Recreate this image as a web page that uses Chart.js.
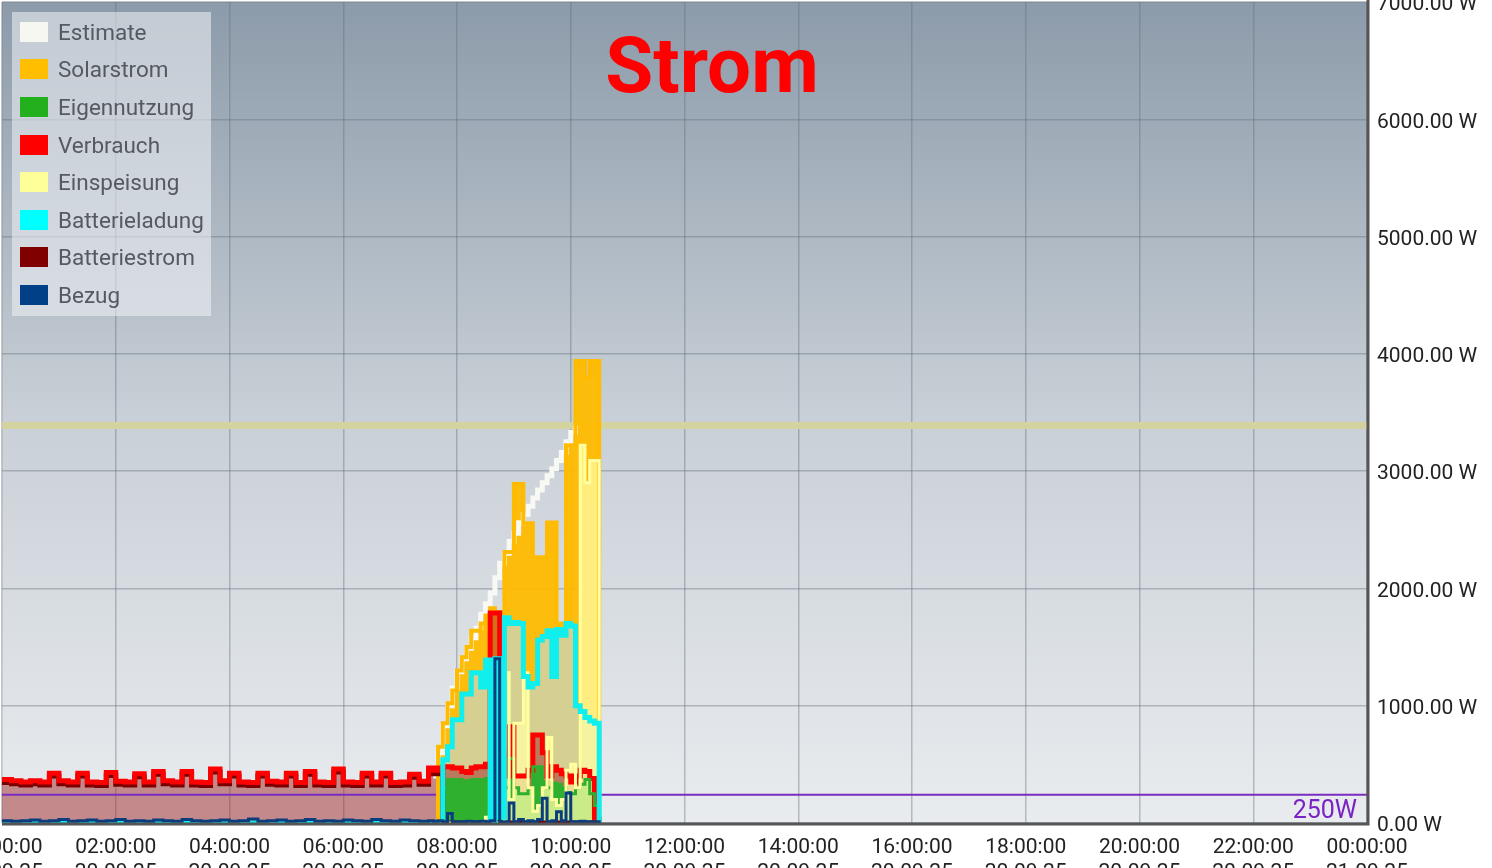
<!DOCTYPE html>
<html>
<head>
<meta charset="utf-8">
<script src="https://cdn.jsdelivr.net/npm/chart.js@4.4.0/dist/chart.umd.min.js"></script>
<style>
  html, body { margin: 0; padding: 0; background: #fff; overflow: hidden; }
  #wrap { position: relative; width: 1492px; height: 900px; }
  #chart { position: absolute; left: 0; top: 0; }
  #title {
    position: absolute; left: 0; top: 27px; width: 1424px; text-align: center;
    font: bold 78px/78px Roboto, sans-serif; color: #ff0000;
  }
  #legend {
    position: absolute; left: 12px; top: 12px; width: 199px; height: 304px;
    background: rgba(240, 243, 246, 0.55); box-sizing: border-box; padding-top: 1px;
  }
  .lg-row { display: flex; align-items: center; height: 37.6px; }
  .lg-sw { width: 28px; height: 20px; margin-left: 8px; }
  .lg-txt { margin-left: 10px; font: 22.5px Roboto, sans-serif; color: #555a60; }
  #limitLabel {
    position: absolute; left: 1260px; top: 797px; width: 97px; text-align: right;
    font: 25px/25px Roboto, sans-serif; color: #7a22c4;
  }
</style>
</head>
<body>
<div id="wrap">
  <canvas id="chart" width="1492" height="900"></canvas>
  <div id="title">Strom</div>
  <div id="legend"></div>
  <div id="limitLabel">250W</div>
</div>
<script>
// minutes since midnight, 20.09.25
const nightTimes = [0,10,20,30,40,50,60,70,80,90,100,110,120,130,140,150,160,170,180,190,
  200,210,220,230,240,250,260,270,280,290,300,310,320,330,340,350,360,370,380,390,
  400,410,420,430,440,450];
const dayTimes = [455,460,465,470,475,480,485,490,495,500,505,510,515,520,525,530,535,540,
  545,550,555,560,565,570,575,580,585,590,595,600,605,610,615,620,625,630];

// night values (W)
const verbrauchNight = [370,360,350,360,350,425,360,350,425,350,
  345,430,355,350,420,350,440,360,350,440,
  350,345,460,360,425,350,345,425,355,350,
  425,345,440,350,345,460,350,345,425,350,
  425,345,350,415,355,470];
const batteriestromNight = [345,335,325,335,325,400,335,325,400,325,
  320,405,330,325,395,325,415,335,325,415,
  325,320,435,335,400,325,320,400,330,325,
  400,320,415,325,320,435,325,320,400,325,
  400,320,325,390,330,445];
const bezugNight = [20,15,20,25,15,20,30,15,20,25,
  15,20,30,15,20,15,25,20,15,30,
  20,15,20,25,15,20,35,15,20,25,
  15,20,30,15,20,15,25,20,15,30,
  20,15,25,20,15,20];
const batterieladungNight = [0,0,0,0,0,0,0,0,0,0,
  0,0,0,0,0,0,0,0,0,0,
  0,0,0,0,0,0,0,0,0,0,
  0,0,0,0,0,0,0,0,0,0,
  0,0,0,0,0,0];

// day values (W)
const estimateDay = [400,600,830,1000,1150,1290,1400,1490,1580,1660,
  1780,1870,1960,2090,2215,2300,2400,2470,2560,2630,
  2700,2770,2840,2900,2960,3020,3090,3160,3250,3330,
  3390,null,null,null,null,null];
const solarDay = [0,650,850,1020,1130,1300,1414,1500,1640,1640,
  1700,1770,1830,1800,1800,2310,2310,2890,2890,2555,
  2555,2265,2265,2265,2563,2563,1700,1700,3220,3220,
  3940,3940,3800,3940,3940,0];
const eigenDay = [0,0,300,370,370,370,360,360,370,370,
  370,380,350,1400,300,300,550,300,250,250,
  300,480,480,350,300,340,330,300,260,250,
  300,330,370,250,150,0];
const verbrauchDay = [450,470,480,480,470,470,440,430,470,480,
  480,500,1790,1790,600,400,820,400,400,400,
  450,750,750,600,400,480,450,420,400,350,
  400,450,440,380,30,0];
const einspeisungDay = [0,0,0,0,0,0,0,0,0,0,
  0,50,0,0,0,1280,200,850,850,1280,
  300,100,150,300,730,200,150,200,450,500,
  300,3220,2900,3090,3090,0];
const batterieladungDay = [0,0,540,650,880,880,1100,1100,1280,1280,
  1160,1390,0,1400,50,1750,1700,1710,1700,1250,
  1160,1190,1560,1590,1640,1250,1650,1600,1700,1680,
  1000,950,900,870,850,0];
const batteriestromDay = [420,440,0,0,0,0,0,0,0,0,
  0,0,0,0,0,0,0,0,0,0,
  0,0,0,0,0,0,0,0,0,0,
  0,0,0,0,0,0];
const bezugDay = [15,20,10,80,10,10,10,15,10,10,
  15,10,20,1400,10,10,170,10,30,10,
  20,10,30,210,10,20,95,20,255,10,
  10,15,10,10,10,0];

// reference lines
const limitTimes = [0, 1440];
const limitValue = 3390;
const minLineValue = 250;

// tick labels
const xTickTimes = ["00:00:00","02:00:00","04:00:00","06:00:00","08:00:00","10:00:00","12:00:00",
  "14:00:00","16:00:00","18:00:00","20:00:00","22:00:00","00:00:00"];
const xTickDates = ["20.09.25","20.09.25","20.09.25","20.09.25","20.09.25","20.09.25","20.09.25",
  "20.09.25","20.09.25","20.09.25","20.09.25","20.09.25","21.09.25"];

// legend
const legendNames = ["Estimate","Solarstrom","Eigennutzung","Verbrauch","Einspeisung","Batterieladung","Batteriestrom","Bezug"];
const legendColors = ["#f7f7f2","#ffbe00","#22b01c","#ff0000","#ffff99","#00ffff","#800000","#013f87"];

/* ---------- helpers ---------- */
function pts(times, vals) {
  return times.map((t, i) => ({ x: t, y: vals[i] }));
}
function joined(tA, vA, tB, vB) {
  return pts(tA, vA).concat(pts(tB, vB));
}

function buildLegend() {
  const el = document.getElementById("legend");
  el.innerHTML = legendNames.map((n, i) =>
    `<div class="lg-row"><div class="lg-sw" style="background:${legendColors[i]}"></div><div class="lg-txt">${n}</div></div>`
  ).join("");
}

/* ---------- plugins ---------- */
const plotBg = {
  id: "plotBg",
  beforeDraw(chart) {
    const { ctx, chartArea: a } = chart;
    ctx.save();
    ctx.fillStyle = "#ffffff";
    ctx.fillRect(0, 0, chart.width, chart.height);
    const g = ctx.createLinearGradient(0, a.top, 0, a.bottom);
    g.addColorStop(0, "#8c9baa");
    g.addColorStop(0.5, "#c8cfd6");
    g.addColorStop(1, "#e9ecef");
    ctx.fillStyle = g;
    ctx.fillRect(a.left, a.top, a.right - a.left, a.bottom - a.top);
    ctx.restore();
  }
};

const frame = {
  id: "frame",
  afterDatasetsDraw(chart) {
    const { ctx, chartArea: a } = chart;
    ctx.save();
    ctx.strokeStyle = "#555555";
    ctx.lineWidth = 3;
    ctx.beginPath();
    ctx.moveTo(a.left, a.bottom + 1);
    ctx.lineTo(a.right + 1, a.bottom + 1);
    ctx.lineTo(a.right + 1, a.top - 2);
    ctx.stroke();
    ctx.restore();
  }
};

/* ---------- chart ---------- */
const lineBase = { pointRadius: 0, stepped: true, spanGaps: false };
const noStroke = "rgba(0,0,0,0)";

const datasets = [
  // index 0 drawn on top
  { ...lineBase, label: "Bezug", data: joined(nightTimes, bezugNight, dayTimes, bezugDay),
    borderColor: "#0b3d7e", borderWidth: 3, fill: false },
  { ...lineBase, label: "Batterieladung", data: joined(nightTimes, batterieladungNight, dayTimes, batterieladungDay),
    borderColor: "#10eeee", borderWidth: 5, fill: false },
  { ...lineBase, label: "Einspeisung", data: pts(dayTimes, einspeisungDay),
    borderColor: "#ffffa0", borderWidth: 3, fill: "origin", backgroundColor: "rgba(255,255,165,0.75)" },
  { ...lineBase, label: "Eigennutzung", data: pts(dayTimes, eigenDay),
    borderColor: "#2eb02e", borderWidth: 3, fill: "origin", backgroundColor: "#2fb12f" },
  { ...lineBase, label: "250W", data: pts(limitTimes, [minLineValue, minLineValue]),
    borderColor: noStroke, borderWidth: 1, fill: { value: minLineValue - 18 }, backgroundColor: "#7b2cc0" },
  { ...lineBase, label: "Verbrauch", data: joined(nightTimes, verbrauchNight, dayTimes, verbrauchDay),
    borderColor: "#ff0000", borderWidth: 5, fill: "origin", backgroundColor: "rgba(160,40,40,0.5)" },
  { ...lineBase, label: "Batteriestrom", data: joined(nightTimes, batteriestromNight, dayTimes, batteriestromDay),
    borderColor: "#7a0000", borderWidth: 5, fill: false },
  { ...lineBase, label: "Batterieladung fill", data: joined(nightTimes, batterieladungNight, dayTimes, batterieladungDay),
    borderColor: noStroke, borderWidth: 1, fill: "origin", backgroundColor: "rgb(213,207,145)" },
  { ...lineBase, label: "Solarstrom", data: pts(dayTimes, solarDay),
    borderColor: "#ffbb00", borderWidth: 4, fill: "origin", backgroundColor: "rgba(255,187,0,0.95)" },
  { ...lineBase, label: "Estimate", data: pts(dayTimes, estimateDay),
    borderColor: "#f8f8f4", borderWidth: 5, fill: false },
  { ...lineBase, label: "Limit", data: pts(limitTimes, [limitValue + 30, limitValue + 30]),
    borderColor: noStroke, borderWidth: 1, fill: { value: limitValue - 30 }, backgroundColor: "rgb(212,211,160)" }
];

document.addEventListener("DOMContentLoaded", () => {
  buildLegend();
  const ctx = document.getElementById("chart").getContext("2d");
  new Chart(ctx, {
    type: "line",
    data: { datasets },
    options: {
      responsive: false,
      animation: false,
      devicePixelRatio: 1,
      layout: { autoPadding: false, padding: { left: 2, top: 2, right: 0, bottom: 0 } },
      plugins: {
        legend: { display: false },
        tooltip: { enabled: false },
        filler: { drawTime: "beforeDatasetsDraw", propagate: false }
      },
      scales: {
        x: {
          type: "linear", min: 0, max: 1440,
          grid: { color: "rgba(100,110,120,0.4)", lineWidth: 1.5, drawTicks: false },
          border: { display: false },
          ticks: {
            stepSize: 120, padding: 12, color: "#222", maxRotation: 0, autoSkip: false,
            font: { family: "Roboto", size: 21 },
            callback: (v, i) => [xTickTimes[i], xTickDates[i]]
          },
          afterFit(scale) { scale.height = 77; scale.paddingLeft = 0; scale.paddingRight = 0; }
        },
        y: {
          position: "right", min: 0, max: 7000,
          grid: { color: "rgba(100,110,120,0.4)", lineWidth: 1.5, drawTicks: false },
          border: { display: false },
          ticks: {
            stepSize: 1000, padding: 10, color: "#222", labelOffset: 3,
            font: { family: "Roboto", size: 21 },
            callback: (v) => v.toFixed(2) + " W"
          },
          afterFit(scale) { scale.width = 125; scale.paddingTop = 0; scale.paddingBottom = 0; }
        }
      }
    },
    plugins: [plotBg, frame]
  });
});
</script>
</body>
</html>
